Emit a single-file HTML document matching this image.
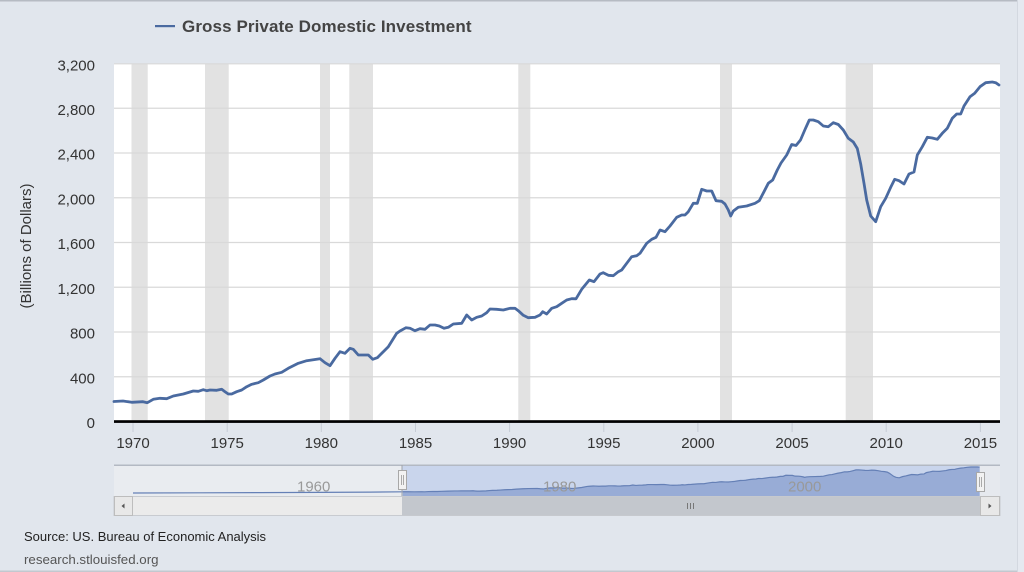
<!DOCTYPE html>
<html><head><meta charset="utf-8"><style>
html,body{margin:0;padding:0;background:#e1e6ed;}
svg{display:block;font-family:"Liberation Sans",Arial,sans-serif;}
</style></head><body>
<svg width="1024" height="572" viewBox="0 0 1024 572" xmlns="http://www.w3.org/2000/svg">
<rect x="0" y="0" width="1024" height="572" fill="#e1e6ed"/>
<rect x="0" y="0" width="1024" height="1.5" fill="#b6bbc3"/>
<rect x="0" y="570.5" width="1024" height="1.5" fill="#c3c8cf"/>
<rect x="1017" y="0" width="1" height="572" fill="#d3d8e0"/>
<rect x="1018" y="0" width="6" height="572" fill="#e5e9f0"/>

<!-- legend -->
<rect x="155" y="25" width="20" height="2.2" fill="#4a6aa0"/>
<text x="182" y="32" font-size="17" font-weight="bold" fill="#444" letter-spacing="0.1">Gross Private Domestic Investment</text>

<!-- plot area -->
<rect x="114" y="63.5" width="886" height="358" fill="#ffffff"/>
<g fill="#e2e2e2">
<rect x="131.5" y="63.5" width="16.2" height="358"/>
<rect x="205" y="63.5" width="23.7" height="358"/>
<rect x="320" y="63.5" width="10" height="358"/>
<rect x="349.3" y="63.5" width="23.7" height="358"/>
<rect x="518.3" y="63.5" width="12" height="358"/>
<rect x="720" y="63.5" width="12" height="358"/>
<rect x="845.7" y="63.5" width="27.3" height="358"/>
</g>
<g stroke="#d9d9d9" stroke-width="1.2">
<line x1="114" y1="63.8" x2="1000" y2="63.8"/>
<line x1="114" y1="108.25" x2="1000" y2="108.25"/>
<line x1="114" y1="153" x2="1000" y2="153"/>
<line x1="114" y1="197.75" x2="1000" y2="197.75"/>
<line x1="114" y1="242.5" x2="1000" y2="242.5"/>
<line x1="114" y1="287.25" x2="1000" y2="287.25"/>
<line x1="114" y1="332" x2="1000" y2="332"/>
<line x1="114" y1="376.75" x2="1000" y2="376.75"/>
</g>

<!-- y labels -->
<g font-size="15" fill="#333" text-anchor="end">
<text x="95" y="70.5">3,200</text>
<text x="95" y="115">2,800</text>
<text x="95" y="159.7">2,400</text>
<text x="95" y="204.5">2,000</text>
<text x="95" y="249.2">1,600</text>
<text x="95" y="294">1,200</text>
<text x="95" y="338.7">800</text>
<text x="95" y="383.5">400</text>
<text x="95" y="428">0</text>
</g>
<text transform="translate(31,246) rotate(-90)" font-size="15" fill="#333" text-anchor="middle">(Billions of Dollars)</text>

<!-- series -->
<polyline fill="none" stroke="#4a6aa0" stroke-width="2.8" stroke-linejoin="round" stroke-linecap="round" points="114,401.5 123,401 131.7,402.3 143,401.7 147.3,402.7 153.3,399.3 160,398.3 166.7,398.7 173.3,396 183.3,394 193.3,391 198.3,391.3 203.3,389.7 206.7,390.7 210,390 216.7,390.3 221.7,389.3 225,391.7 228.3,394 231.7,394 236.7,391.7 241.7,390 246.7,386.7 251.7,384.3 258.3,382.7 263.3,380 270,376 275,374 281.7,372.3 288.3,368.3 298.3,363.3 306.7,360.7 320,358.7 325,362.7 330,365.7 335,358.3 340,351.7 345,353.3 350,348.3 353.3,349.3 358.3,355 368.3,355 372.7,359.3 377.3,357.7 383.3,351.7 388.3,346.7 396.7,333.3 400,331 406,327.7 410,328.3 415,330.7 420,328.7 425,329.3 430,325 435,325 439.3,326 444,328.3 448.3,327.3 453.3,324 461.7,323.3 466.7,315 471.7,320 476.7,317.3 481.7,316 486.7,312.7 490,309 496.7,309.3 503.3,310 510,308.3 515,308.3 518.3,310.7 523.3,315.3 528.3,317.7 535,317.3 540,315 542.7,311.7 546.7,314 551.7,308.3 556.7,306.7 561.7,303.3 566.7,300 571.7,298.7 576,298.8 581.7,289.3 589.3,280 594,281.7 600,274 603.3,272.7 608.3,275.3 613.3,275.7 618.3,271.7 621.7,270 626.7,263.3 631.7,256.7 636.7,255.7 640,253.3 646.7,243.3 651.7,239.3 656,237.3 660,230 665,231.7 670,226 676.7,217.3 681.7,215 685,215 688.3,211.7 693.3,203.3 697.3,203.3 701.7,189.3 706.7,191 711.7,191 716,200.7 721.7,201.3 725,204 728.3,210 730.7,216 733.3,211 738.3,207.3 746.7,206 755,203.3 759.3,200.7 764,191.7 768.3,183.3 772.7,180 777.3,170 781,163 786.7,155 791.7,144.5 796,145.5 800.5,140 805,129.5 809.3,120 813.3,120 818.3,121.7 823.3,126 828.3,126.7 833.3,122.7 838.3,124.5 843.3,130 848.3,138.3 853.3,142 857.3,148.5 860.7,164 864,183.3 866.7,200 870.7,216 875.7,221.7 880.7,206.7 885.7,198.3 890.7,187.3 894.7,179.3 899,180.7 904,184 909,174 914,172 917.3,155 922.3,146.7 927.3,137.3 932.3,138 937.3,139.3 942.3,133.3 947.3,128.3 952.3,118.3 956.7,114 960.7,114 964,106 970,96.7 974.7,93.3 980,86.7 985.7,82.7 992.3,82 995.7,82.7 999,85"/>

<!-- x axis -->
<rect x="114" y="420.2" width="886" height="2.7" fill="#000"/>
<g stroke="#c6ccd6" stroke-width="1">
<line x1="133" y1="423" x2="133" y2="432"/>
<line x1="227.2" y1="423" x2="227.2" y2="432"/>
<line x1="321.3" y1="423" x2="321.3" y2="432"/>
<line x1="415.5" y1="423" x2="415.5" y2="432"/>
<line x1="509.6" y1="423" x2="509.6" y2="432"/>
<line x1="603.8" y1="423" x2="603.8" y2="432"/>
<line x1="697.9" y1="423" x2="697.9" y2="432"/>
<line x1="792.1" y1="423" x2="792.1" y2="432"/>
<line x1="886.2" y1="423" x2="886.2" y2="432"/>
<line x1="980.4" y1="423" x2="980.4" y2="432"/>
</g>
<g font-size="15" fill="#333" text-anchor="middle">
<text x="133" y="448">1970</text>
<text x="227.2" y="448">1975</text>
<text x="321.3" y="448">1980</text>
<text x="415.5" y="448">1985</text>
<text x="509.6" y="448">1990</text>
<text x="603.8" y="448">1995</text>
<text x="697.9" y="448">2000</text>
<text x="792.1" y="448">2005</text>
<text x="886.2" y="448">2010</text>
<text x="980.4" y="448">2015</text>
</g>

<!-- navigator -->
<rect x="114" y="465" width="288" height="31" fill="#e9ecf0"/>
<rect x="402" y="465" width="578" height="31" fill="#c9d5ec"/>
<rect x="980" y="465" width="20" height="31" fill="#e6e9ee"/>
<g transform="matrix(0.6516 0 0 0.07754 328.6 460.6)">
<polygon fill="#98acd6" points="114,401.5 123,401 131.7,402.3 143,401.7 147.3,402.7 153.3,399.3 160,398.3 166.7,398.7 173.3,396 183.3,394 193.3,391 198.3,391.3 203.3,389.7 206.7,390.7 210,390 216.7,390.3 221.7,389.3 225,391.7 228.3,394 231.7,394 236.7,391.7 241.7,390 246.7,386.7 251.7,384.3 258.3,382.7 263.3,380 270,376 275,374 281.7,372.3 288.3,368.3 298.3,363.3 306.7,360.7 320,358.7 325,362.7 330,365.7 335,358.3 340,351.7 345,353.3 350,348.3 353.3,349.3 358.3,355 368.3,355 372.7,359.3 377.3,357.7 383.3,351.7 388.3,346.7 396.7,333.3 400,331 406,327.7 410,328.3 415,330.7 420,328.7 425,329.3 430,325 435,325 439.3,326 444,328.3 448.3,327.3 453.3,324 461.7,323.3 466.7,315 471.7,320 476.7,317.3 481.7,316 486.7,312.7 490,309 496.7,309.3 503.3,310 510,308.3 515,308.3 518.3,310.7 523.3,315.3 528.3,317.7 535,317.3 540,315 542.7,311.7 546.7,314 551.7,308.3 556.7,306.7 561.7,303.3 566.7,300 571.7,298.7 576,298.8 581.7,289.3 589.3,280 594,281.7 600,274 603.3,272.7 608.3,275.3 613.3,275.7 618.3,271.7 621.7,270 626.7,263.3 631.7,256.7 636.7,255.7 640,253.3 646.7,243.3 651.7,239.3 656,237.3 660,230 665,231.7 670,226 676.7,217.3 681.7,215 685,215 688.3,211.7 693.3,203.3 697.3,203.3 701.7,189.3 706.7,191 711.7,191 716,200.7 721.7,201.3 725,204 728.3,210 730.7,216 733.3,211 738.3,207.3 746.7,206 755,203.3 759.3,200.7 764,191.7 768.3,183.3 772.7,180 777.3,170 781,163 786.7,155 791.7,144.5 796,145.5 800.5,140 805,129.5 809.3,120 813.3,120 818.3,121.7 823.3,126 828.3,126.7 833.3,122.7 838.3,124.5 843.3,130 848.3,138.3 853.3,142 857.3,148.5 860.7,164 864,183.3 866.7,200 870.7,216 875.7,221.7 880.7,206.7 885.7,198.3 890.7,187.3 894.7,179.3 899,180.7 904,184 909,174 914,172 917.3,155 922.3,146.7 927.3,137.3 932.3,138 937.3,139.3 942.3,133.3 947.3,128.3 952.3,118.3 956.7,114 960.7,114 964,106 970,96.7 974.7,93.3 980,86.7 985.7,82.7 992.3,82 995.7,82.7 999,85 999,456.5 114,456.5"/>
<polyline fill="none" stroke="#6580b6" stroke-width="1.2" vector-effect="non-scaling-stroke" points="114,401.5 123,401 131.7,402.3 143,401.7 147.3,402.7 153.3,399.3 160,398.3 166.7,398.7 173.3,396 183.3,394 193.3,391 198.3,391.3 203.3,389.7 206.7,390.7 210,390 216.7,390.3 221.7,389.3 225,391.7 228.3,394 231.7,394 236.7,391.7 241.7,390 246.7,386.7 251.7,384.3 258.3,382.7 263.3,380 270,376 275,374 281.7,372.3 288.3,368.3 298.3,363.3 306.7,360.7 320,358.7 325,362.7 330,365.7 335,358.3 340,351.7 345,353.3 350,348.3 353.3,349.3 358.3,355 368.3,355 372.7,359.3 377.3,357.7 383.3,351.7 388.3,346.7 396.7,333.3 400,331 406,327.7 410,328.3 415,330.7 420,328.7 425,329.3 430,325 435,325 439.3,326 444,328.3 448.3,327.3 453.3,324 461.7,323.3 466.7,315 471.7,320 476.7,317.3 481.7,316 486.7,312.7 490,309 496.7,309.3 503.3,310 510,308.3 515,308.3 518.3,310.7 523.3,315.3 528.3,317.7 535,317.3 540,315 542.7,311.7 546.7,314 551.7,308.3 556.7,306.7 561.7,303.3 566.7,300 571.7,298.7 576,298.8 581.7,289.3 589.3,280 594,281.7 600,274 603.3,272.7 608.3,275.3 613.3,275.7 618.3,271.7 621.7,270 626.7,263.3 631.7,256.7 636.7,255.7 640,253.3 646.7,243.3 651.7,239.3 656,237.3 660,230 665,231.7 670,226 676.7,217.3 681.7,215 685,215 688.3,211.7 693.3,203.3 697.3,203.3 701.7,189.3 706.7,191 711.7,191 716,200.7 721.7,201.3 725,204 728.3,210 730.7,216 733.3,211 738.3,207.3 746.7,206 755,203.3 759.3,200.7 764,191.7 768.3,183.3 772.7,180 777.3,170 781,163 786.7,155 791.7,144.5 796,145.5 800.5,140 805,129.5 809.3,120 813.3,120 818.3,121.7 823.3,126 828.3,126.7 833.3,122.7 838.3,124.5 843.3,130 848.3,138.3 853.3,142 857.3,148.5 860.7,164 864,183.3 866.7,200 870.7,216 875.7,221.7 880.7,206.7 885.7,198.3 890.7,187.3 894.7,179.3 899,180.7 904,184 909,174 914,172 917.3,155 922.3,146.7 927.3,137.3 932.3,138 937.3,139.3 942.3,133.3 947.3,128.3 952.3,118.3 956.7,114 960.7,114 964,106 970,96.7 974.7,93.3 980,86.7 985.7,82.7 992.3,82 995.7,82.7 999,85"/>
</g>
<polyline fill="none" stroke="#6580b6" stroke-width="1.2" points="133,493 200,492.8 260,492.6 320,492.4 370,492.1 403,491.8"/>
<g font-size="15" fill="#999" >
<text x="297" y="491.5">1960</text>
<text x="543" y="491.5">1980</text>
<text x="788" y="491.5">2000</text>
</g>
<rect x="114" y="464.5" width="886" height="1.5" fill="#b3b9c3"/>
<line x1="402" y1="465" x2="402" y2="516" stroke="#a0a4aa" stroke-width="1"/>
<!-- handles -->
<rect x="398.5" y="470.5" width="8" height="19" fill="#f2f2f2" stroke="#a8a8a8" stroke-width="1"/>
<line x1="401.5" y1="475" x2="401.5" y2="485" stroke="#aaa" stroke-width="1"/>
<line x1="403.5" y1="475" x2="403.5" y2="485" stroke="#aaa" stroke-width="1"/>
<rect x="976.5" y="472.5" width="8" height="19" fill="#f2f2f2" stroke="#a8a8a8" stroke-width="1"/>
<line x1="979.5" y1="477" x2="979.5" y2="487" stroke="#aaa" stroke-width="1"/>
<line x1="981.5" y1="477" x2="981.5" y2="487" stroke="#aaa" stroke-width="1"/>

<!-- scrollbar -->
<rect x="114" y="496.5" width="886" height="19" fill="#ebebeb" stroke="#c8cbd0" stroke-width="1"/>
<rect x="402" y="496.5" width="578" height="19" fill="#c3c7cd"/>
<rect x="114.5" y="496.5" width="18" height="19" fill="#e8e8e8" stroke="#bdbdbd" stroke-width="1"/>
<rect x="980.5" y="496.5" width="19" height="19" fill="#e8e8e8" stroke="#bdbdbd" stroke-width="1"/>
<polygon points="121.5,506 124.5,503.5 124.5,508.5" fill="#555"/>
<polygon points="991.5,506 988.5,503.5 988.5,508.5" fill="#555"/>
<g stroke="#777" stroke-width="1">
<line x1="687.5" y1="503" x2="687.5" y2="509"/>
<line x1="690.5" y1="503" x2="690.5" y2="509"/>
<line x1="693.5" y1="503" x2="693.5" y2="509"/>
</g>

<!-- footer -->
<text x="24" y="541" font-size="13" fill="#222">Source: US. Bureau of Economic Analysis</text>
<text x="24" y="564" font-size="13.3" fill="#555">research.stlouisfed.org</text>
</svg>
</body></html>
